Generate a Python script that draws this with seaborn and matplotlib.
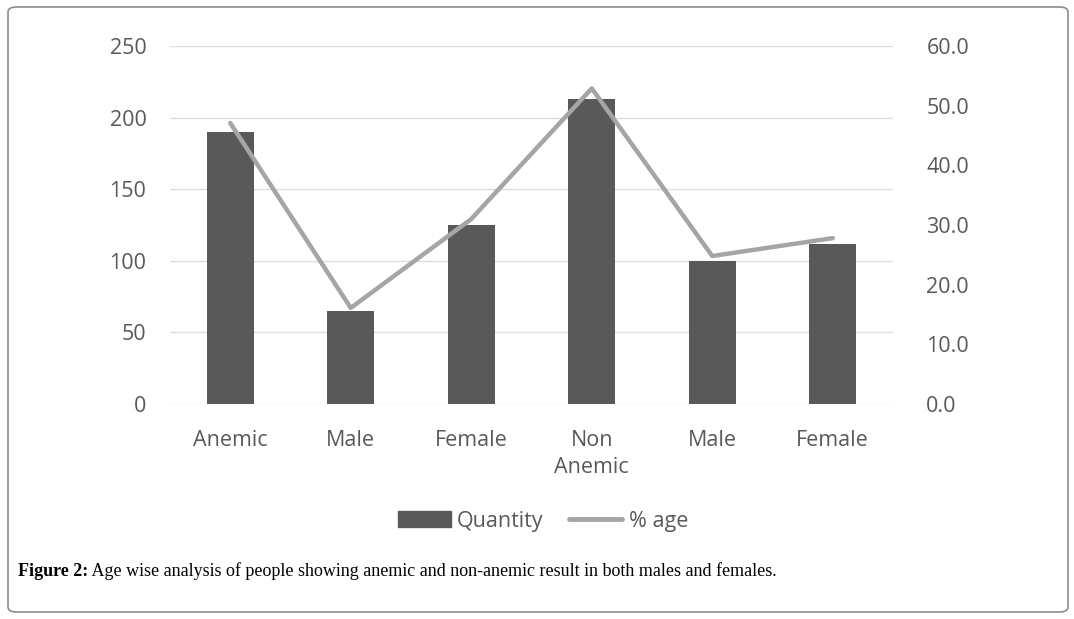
import matplotlib
matplotlib.use("Agg")
import matplotlib.pyplot as plt
import seaborn as sns
import pandas as pd
from matplotlib.patches import FancyBboxPatch, Patch
from matplotlib.lines import Line2D

categories = ["Anemic", "Male", "Female", "Non\nAnemic", "Male", "Female"]
quantity = [190, 65, 125, 213, 100, 112]
percent_age = [47.1, 16.1, 31.0, 52.9, 24.8, 27.8]
left_ticks = [0, 50, 100, 150, 200, 250]
right_ticks = [0, 10, 20, 30, 40, 50, 60]

sns.set_theme(style="white")
plt.rcParams["font.family"] = ["Open Sans", "DejaVu Sans"]

BAR = "#595959"
LINE = "#A5A5A5"
TXT = "#595959"
GRID = "#DDDDDD"
FS = 15.5

df = pd.DataFrame({"pos": list(range(len(categories))), "Quantity": quantity, "pct": percent_age})

fig = plt.figure(figsize=(10.74, 6.19), dpi=100)
ax = fig.add_axes([170/1074, 1-404/619, (893-170)/1074, (404-46)/619])

sns.barplot(data=df, x="pos", y="Quantity", color=BAR, width=0.39, ax=ax,
            saturation=1, zorder=2, linewidth=0)
ax.set_ylim(0, 250)
ax.set_yticks(left_ticks)
ax.set_yticklabels([str(t) for t in left_ticks])
ax.set_xticks(range(len(categories)))
ax.set_xticklabels(categories, linespacing=1.35)
ax.set_xlabel("")
ax.set_ylabel("")
ax.yaxis.grid(True, color=GRID, lw=1.0, zorder=0)
ax.set_axisbelow(True)
for s in ax.spines.values():
    s.set_visible(False)
ax.tick_params(axis="both", length=0, colors=TXT, labelsize=FS)
ax.tick_params(axis="x", pad=19)
ax.tick_params(axis="y", pad=17)

ax2 = ax.twinx()
sns.lineplot(data=df, x="pos", y="pct", color=LINE, lw=3.2, ax=ax2, sort=False)
ax2.set_ylim(0, 60)
ax2.set_yticks(right_ticks)
ax2.set_yticklabels([f"{t:.1f}" for t in right_ticks])
ax2.set_ylabel("")
ax2.set_xlabel("")
for s in ax2.spines.values():
    s.set_visible(False)
ax2.tick_params(axis="y", length=0, colors=TXT, labelsize=FS, pad=24)
ax.set_xlim(-0.5, len(categories) - 0.5)

handles = [Patch(facecolor=BAR, edgecolor=BAR), Line2D([0], [0], color=LINE, lw=3.5)]
fig.legend(handles, ["Quantity", "% age"], loc="center", ncol=2,
           bbox_to_anchor=(543/1074, 1-521/619), frameon=False,
           fontsize=FS, labelcolor=TXT, handlelength=2.45, handletextpad=0.3,
           columnspacing=1.2)

border = FancyBboxPatch((8/1074, 7/619), (1068-8)/1074, (612-7)/619,
                        boxstyle="round,pad=0,rounding_size=0.008",
                        transform=fig.transFigure, fill=False,
                        edgecolor="#8C8C8C", lw=1.2)
fig.patches.append(border)

t1 = fig.text(18/1074, 1-572/619, "Figure 2:", fontsize=13, fontweight="bold",
              family="Liberation Serif", va="center", color="black")
plt.annotate(" Age wise analysis of people showing anemic and non-anemic result in both males and females.",
             xy=(1, 0), xycoords=t1, va="bottom", ha="left",
             fontsize=13, family="Liberation Serif", color="black")

fig.savefig("out.png", dpi=100)
